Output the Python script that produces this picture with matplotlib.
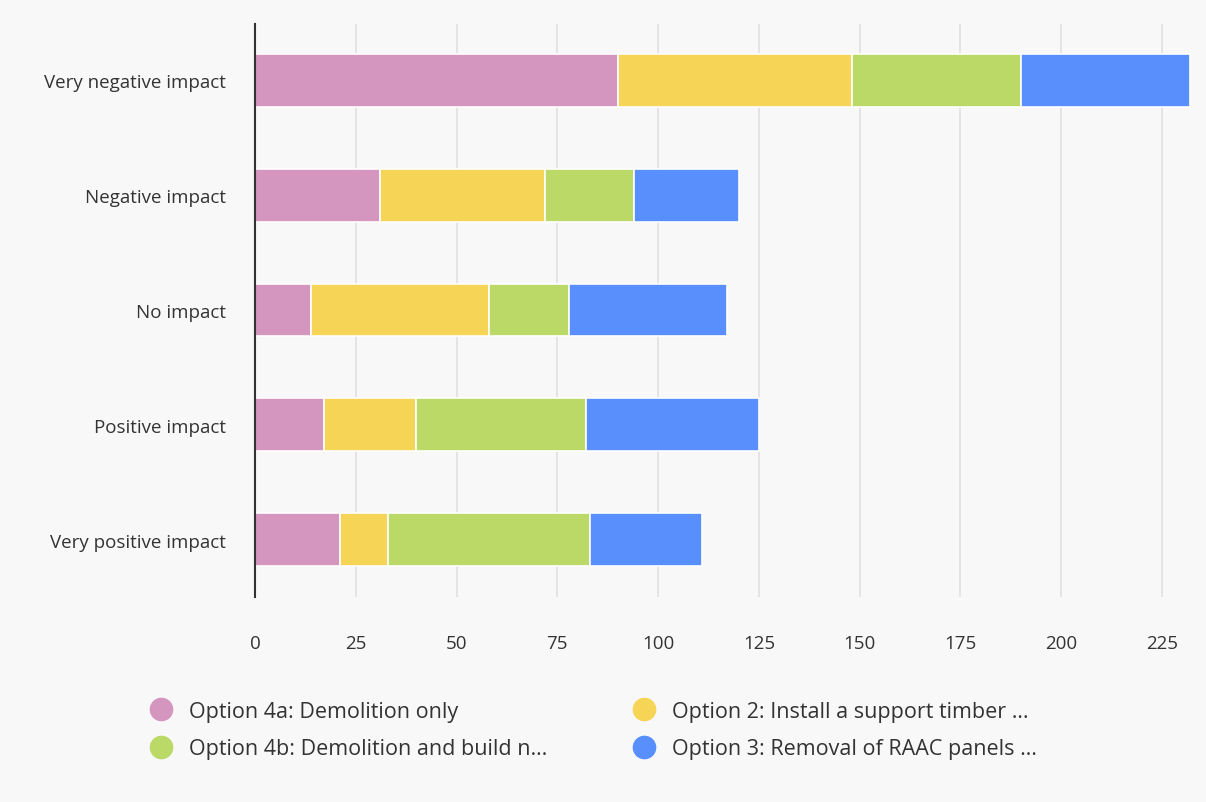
import numpy as np
import matplotlib
matplotlib.use("Agg")
import matplotlib.pyplot as plt
from matplotlib.lines import Line2D

plt.rcParams['font.family'] = ['Open Sans', 'DejaVu Sans']

categories = ["Very negative impact", "Negative impact", "No impact",
              "Positive impact", "Very positive impact"]
opt_4a = [90, 31, 14, 17, 21]
opt_2 = [58, 41, 44, 23, 12]
opt_4b = [42, 22, 20, 42, 50]
opt_3 = [42, 26, 39, 43, 28]
series_names = ["Option 4a: Demolition only",
                "Option 2: Install a support timber \u2026",
                "Option 4b: Demolition and build n\u2026",
                "Option 3: Removal of RAAC panels \u2026"]
xticks = [0, 25, 50, 75, 100, 125, 150, 175, 200, 225]

BG = "#f9f8f9"
COLORS = ["#d495bf", "#f6d455", "#bad966", "#588ffd"]

fig = plt.figure(figsize=(12.06, 8.03), dpi=100, facecolor=BG)
ax = fig.add_axes([255 / 1206, 1 - 598 / 803, (1191 - 255) / 1206, (598 - 25) / 803])
ax.set_facecolor(BG)

y = np.arange(len(categories))
left = np.zeros(len(categories))
for vals, col in zip([opt_4a, opt_2, opt_4b, opt_3], COLORS):
    ax.barh(y, vals, left=left, height=0.46, color=col,
            edgecolor="white", linewidth=1.2, zorder=2)
    left += np.array(vals)

ax.set_ylim(4.5, -0.49)
ax.set_xlim(0, 232.2)
ax.set_xticks(xticks)
ax.set_yticks(y)
ax.set_yticklabels(categories)
ax.tick_params(axis="both", length=0, labelsize=13.5, labelcolor="#333333")
ax.tick_params(axis="y", pad=21)
ax.tick_params(axis="x", pad=27)

for t in xticks[1:]:
    ax.axvline(t, color="#e3e1e3", linewidth=1.3, zorder=1)

for s in ["top", "right", "bottom"]:
    ax.spines[s].set_visible(False)
ax.spines["left"].set_color("#333333")
ax.spines["left"].set_linewidth(1.5)

# legend fills column by column, so order entries to read row by row
order = [0, 2, 1, 3]
handles = [Line2D([0], [0], marker="o", linestyle="none", markersize=16,
                  markerfacecolor=COLORS[i], markeredgecolor=COLORS[i]) for i in order]
labels = [series_names[i] for i in order]
fig.legend(handles, labels, loc="center left",
           bbox_to_anchor=(120 / 1206, 1 - 731 / 803), ncol=2,
           frameon=False, fontsize=15.5, handletextpad=0.3,
           columnspacing=3.5, labelspacing=0.78, labelcolor="#333333")

fig.savefig("out.png", dpi=100, facecolor=BG)
